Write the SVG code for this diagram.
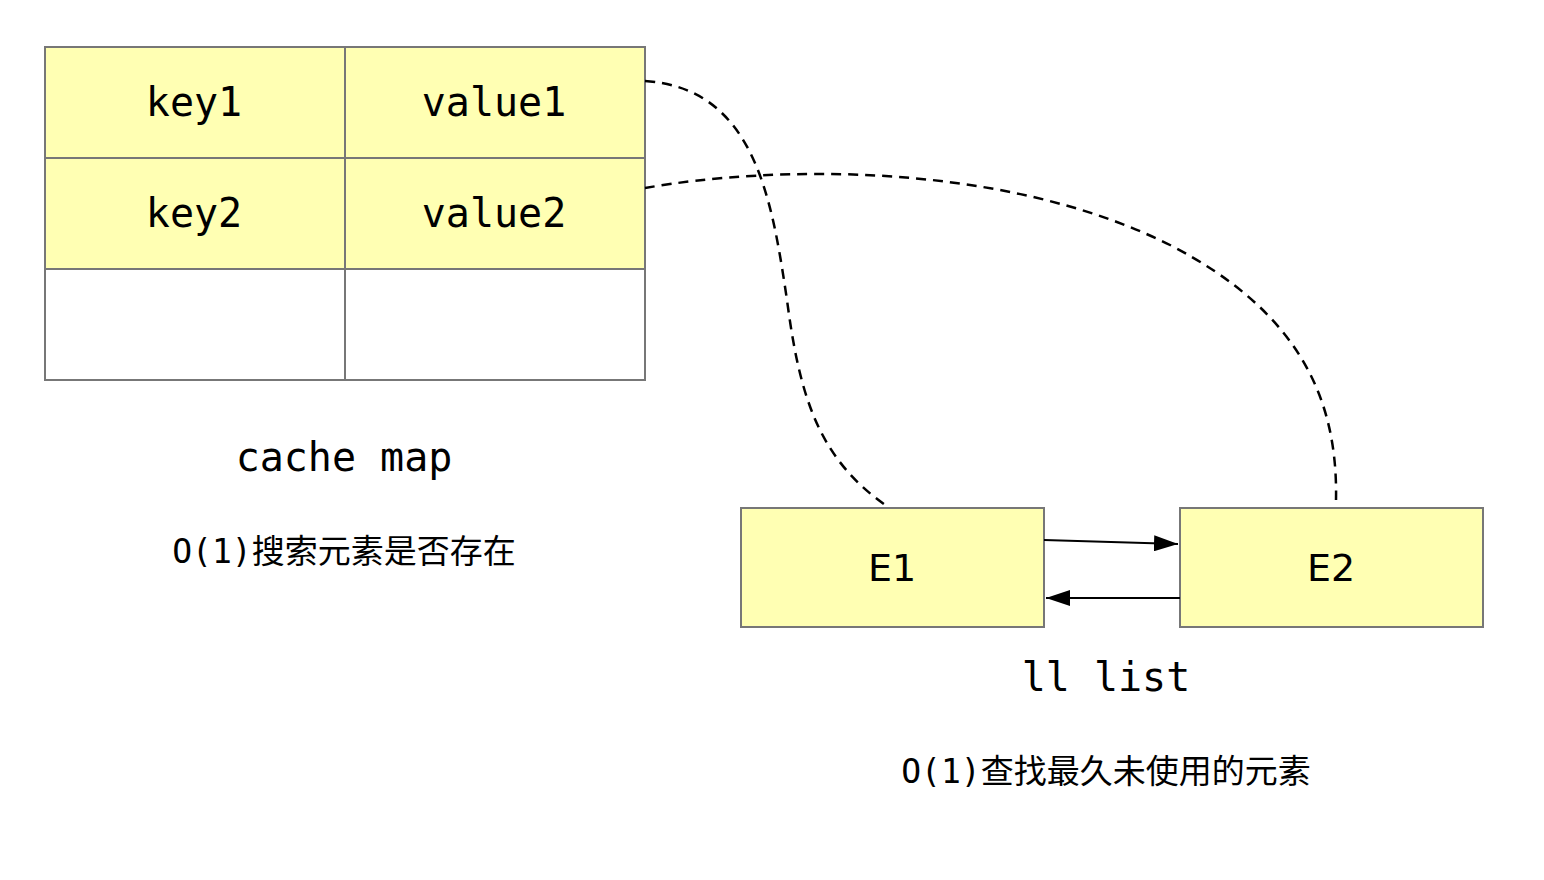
<svg xmlns="http://www.w3.org/2000/svg" width="1544" height="880" viewBox="0 0 1544 880">
<style>
.cell{fill:#ffffb3;stroke:#777;stroke-width:2}
.empty{fill:#fff;stroke:#777;stroke-width:2}
.mono{font-family:"DejaVu Sans Mono",monospace;font-size:40px;fill:#000;text-anchor:middle}
.sans{font-family:"DejaVu Sans",sans-serif;font-size:38px;fill:#000;text-anchor:middle}
.cjk{font-family:"DejaVu Sans Mono","Noto Sans CJK SC",monospace;font-size:33px;fill:#000;text-anchor:middle}
.dash{fill:none;stroke:#000;stroke-width:2.5;stroke-dasharray:10 7}
.arrow{fill:none;stroke:#000;stroke-width:2}
</style>
<defs>
<marker id="ah2" viewBox="0 0 10 10" refX="10" refY="5" markerWidth="24" markerHeight="16" markerUnits="userSpaceOnUse" orient="auto" preserveAspectRatio="none"><path d="M0,0 L10,5 L0,10 Z" fill="#000"/></marker>
</defs>
<g id="cache-map">
<rect class="cell" x="45" y="47" width="300" height="111"/>
<rect class="cell" x="345" y="47" width="300" height="111"/>
<rect class="cell" x="45" y="158" width="300" height="111"/>
<rect class="cell" x="345" y="158" width="300" height="111"/>
<rect class="empty" x="45" y="269" width="300" height="111"/>
<rect class="empty" x="345" y="269" width="300" height="111"/>
<text class="mono" x="194" y="116">key1</text>
<text class="mono" x="494" y="116">value1</text>
<text class="mono" x="194" y="227">key2</text>
<text class="mono" x="494" y="227">value2</text>
</g>
<g id="labels">
<text class="mono" x="344" y="471">cache map</text>
<text class="cjk" x="344" y="563">O(1)搜索元素是否存在</text>
<text class="mono" x="1106" y="691">ll list</text>
<text class="cjk" x="1106" y="783">O(1)查找最久未使用的元素</text>
</g>
<g id="E1">
<rect class="cell" x="741" y="508" width="303" height="119"/>
<text class="sans" x="892" y="581">E1</text>
</g>
<g id="E2">
<rect class="cell" x="1180" y="508" width="303" height="119"/>
<text class="sans" x="1331" y="581">E2</text>
</g>
<g id="connectors">
<path class="dash" d="M645,81 C755,88 772,200 787,300 C800,400 820,460 888,507"/>
<path class="dash" d="M645,188 C770,166 1000,160 1170,245 C1300,312 1338,400 1336,500"/>
<path class="arrow" d="M1044,540 L1178,544" marker-end="url(#ah2)"/>
<path class="arrow" d="M1180,598 L1046,598" marker-end="url(#ah2)"/>
</g>
</svg>
